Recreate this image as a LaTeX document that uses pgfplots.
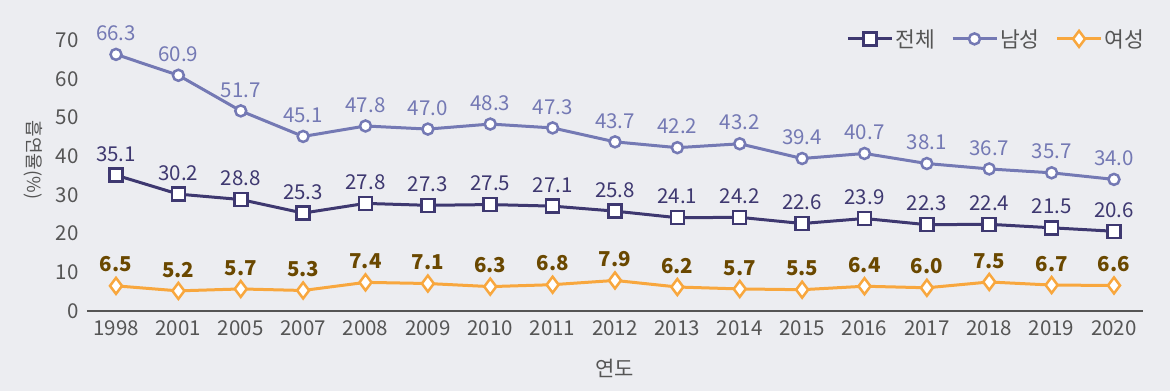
\documentclass[border=0pt]{standalone}
\usepackage{fontspec}
\setmainfont{Noto Sans CJK KR}
\usepackage{pgfplots}
\pgfplotsset{compat=1.18}
\definecolor{cAll}{HTML}{3E3870}
\definecolor{cMen}{HTML}{7479B4}
\definecolor{cWom}{HTML}{F8A73E}
\definecolor{cWomLbl}{HTML}{6A4800}
\definecolor{bg}{HTML}{ECEDF1}
\definecolor{tickc}{HTML}{555555}
\begin{document}
\begin{tikzpicture}
\fill[bg] (-87pt,-80pt) rectangle (1083pt,311pt);
\begin{axis}[
  at={(0pt,0pt)}, anchor=south west,
  scale only axis, width=1056pt, height=290.3pt,
  xmin=-0.465, xmax=16.465, ymin=0, ymax=75,
  axis x line=bottom, axis y line=left,
  x axis line style={-, draw=tickc, line width=2pt},
  y axis line style={draw=none},
  major tick length=0pt,
  xtick={0,...,16},
  xticklabels={1998,2001,2005,2007,2008,2009,2010,2011,2012,2013,2014,2015,2016,2017,2018,2019,2020},
  ytick={0,10,...,70},
  yticklabel={\pgfmathprintnumber[fixed,precision=0]{\tick}},
  /pgf/number format/assume math mode=true,
  tick label style={font=\fontsize{20.5}{22}\selectfont, color=tickc},
  yticklabel style={xshift=-5pt},
  xticklabel style={yshift=-6pt},
  xlabel={연도}, xlabel style={font=\fontsize{21}{23}\selectfont, color=tickc, yshift=-17pt},
  ylabel={흡연율(\%)}, ylabel style={font=\fontsize{18}{20}\selectfont, color=tickc, at={(axis description cs:-0.051,0.52)}, anchor=center, rotate=180},
  legend columns=3,
  legend style={at={(1.006,0.985)}, anchor=north east, draw=none, fill=none,
    font=\fontsize{21.5}{23}\selectfont, text=tickc,
    /tikz/every even column/.append style={column sep=14pt}},
  legend image code/.code={\draw[mark repeat=2,mark phase=2,#1] plot coordinates {(0pt,0pt) (22pt,0pt) (44pt,0pt)};},
  nodes near coords={\pgfmathprintnumber[fixed,fixed zerofill,precision=1]{\pgfplotspointmeta}},
  every node near coord/.append style={yshift=9pt, font=\fontsize{20.5}{22}\selectfont},
]
\addplot[cAll, line width=3pt, mark=square*, mark size=6.5pt, mark options={fill=white, line width=2.5pt},
  nodes near coords style={color=cAll}] coordinates {
(0,35.1)(1,30.2)(2,28.8)(3,25.3)(4,27.8)(5,27.3)(6,27.5)(7,27.1)(8,25.8)(9,24.1)(10,24.2)(11,22.6)(12,23.9)(13,22.3)(14,22.4)(15,21.5)(16,20.6)};
\addlegendentry{전체}
\addplot[cMen, line width=3pt, mark=*, mark size=5.5pt, mark options={fill=white, line width=2.5pt},
  nodes near coords style={color=cMen}] coordinates {
(0,66.3)(1,60.9)(2,51.7)(3,45.1)(4,47.8)(5,47.0)(6,48.3)(7,47.3)(8,43.7)(9,42.2)(10,43.2)(11,39.4)(12,40.7)(13,38.1)(14,36.7)(15,35.7)(16,34.0)};
\addlegendentry{남성}
\addplot[cWom, line width=3pt, mark=diamond*, mark size=8pt, mark options={fill=white, line width=2.5pt},
  nodes near coords style={color=cWomLbl, font=\fontsize{20.5}{22}\selectfont\bfseries}] coordinates {
(0,6.5)(1,5.2)(2,5.7)(3,5.3)(4,7.4)(5,7.1)(6,6.3)(7,6.8)(8,7.9)(9,6.2)(10,5.7)(11,5.5)(12,6.4)(13,6.0)(14,7.5)(15,6.7)(16,6.6)};
\addlegendentry{여성}
\end{axis}
\pgfresetboundingbox
\path (-87pt,-80pt) rectangle (1083pt,311pt);
\end{tikzpicture}
\end{document}
